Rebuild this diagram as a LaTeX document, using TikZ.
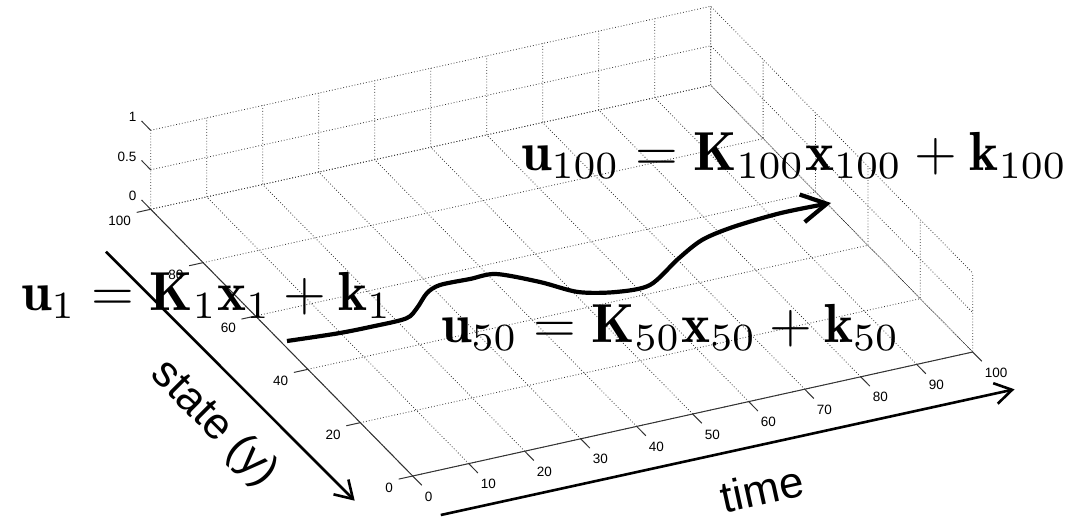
\documentclass[tikz,border=0pt]{standalone}
\usepackage{fontspec}
\usepackage{amsmath}
\usepackage{tikz}
\usetikzlibrary{arrows.meta}
\newfontfamily\axisfont{Liberation Sans}

\begin{document}
\begin{tikzpicture}[
  x=1pt, y=-1pt,
  griddot/.style={black!80, line width=0.8pt, dash pattern=on 0.8pt off 2.1pt},
  axisline/.style={black!80, line width=1pt},
  ticklbl/.style={font=\axisfont\fontsize{13.5}{15}\selectfont, inner sep=0pt},
  eqn/.style={scale=5.5, inner sep=0pt, anchor=base west},
  axislbl/.style={font=\axisfont\fontsize{44}{48}\selectfont, inner sep=0pt},
  bigarrow/.style={line width=2.6pt, -{Straight Barb[length=17pt, width=21pt]}},
  traj/.style={line width=4.2pt, -{Straight Barb[length=25pt, width=28pt]}}
]
  \useasboundingbox (0,0) rectangle (1079,519);

  \begin{scope}[shift={(412.7,476)}, x={(5.6pt,1.24pt)}, y={(-2.62pt,2.667pt)}, z={(0pt,79pt)}]
    \foreach \tm in {0,10,...,100} {
      \draw[griddot] (\tm,0,0) -- (\tm,100,0) -- (\tm,100,1);
    }
    \foreach \st in {0,20,...,100} {
      \draw[griddot] (0,\st,0) -- (100,\st,0) -- (100,\st,1);
    }
    \foreach \zv in {0,0.5,1} {
      \draw[griddot] (0,100,\zv) -- (100,100,\zv) -- (100,0,\zv);
    }

    \draw[axisline] (0,0,0) -- (100,0,0);
    \draw[axisline] (0,0,0) -- (0,100,0);
    \foreach \tm in {0,10,...,100} {
      \draw[axisline] (\tm,0,0) -- (\tm,-3.5,0);
      \node[ticklbl, anchor=west, xshift=12pt, yshift=-20.5pt] (tlbl\tm) at (\tm,0,0) {\tm};
    }
    \foreach \st in {0,20,...,100} {
      \draw[axisline] (0,\st,0) -- (-2.5,\st,0);
      \node[ticklbl, anchor=east, xshift=-19.5pt, yshift=-12pt] (slbl\st) at (0,\st,0) {\st};
    }
    \foreach \zv [count=\zi] in {0,0.5,1} {
      \draw[axisline] (0,100,\zv) -- (0,103.5,\zv);
      \node[ticklbl, anchor=east, xshift=-14pt, yshift=13pt] (zlbl\zi) at (0,100,\zv) {\zv};
    }
  \end{scope}

  \coordinate (trajstart) at (287,341);
  \coordinate (trajend) at (831,203);
  \draw[traj] plot[smooth, tension=0.5] coordinates {(trajstart) (337,333.5) (370,327) (406,318.5)
    (417,308) (427,293) (440,285) (470,279) (496,274) (540,282) (578,292) (616,292) (650,285)
    (678,259) (702,240) (733,227) (781,213) (trajend)};

  \node[eqn] (eqfirst) at (20,310.5) {$\mathbf{u}_1 = \mathbf{K}_1\mathbf{x}_1 + \mathbf{k}_1$};
  \node[eqn] (eqmid) at (440,342) {$\mathbf{u}_{50} = \mathbf{K}_{50}\mathbf{x}_{50} + \mathbf{k}_{50}$};
  \node[eqn] (eqlast) at (520,170) {$\mathbf{u}_{100} = \mathbf{K}_{100}\mathbf{x}_{100} + \mathbf{k}_{100}$};

  \coordinate (statetail) at (106,251.7);
  \coordinate (statehead) at (354.7,500.7);
  \coordinate (timetail) at (440.8,515);
  \coordinate (timehead) at (1014.5,389.3);
  \draw[bigarrow] (statetail) -- (statehead);
  \draw[bigarrow] (timetail) -- (timehead);
  \node[axislbl, rotate=-45] (statelbl) at (214,424) {state (y)};
  \node[axislbl, rotate=12.4] (timelbl) at (762,489) {time};
\end{tikzpicture}
\end{document}
